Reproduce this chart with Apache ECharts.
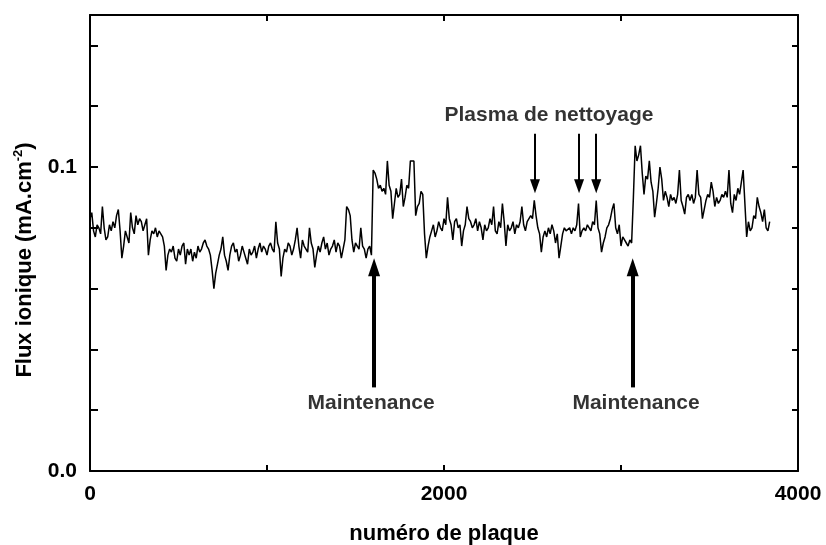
<!DOCTYPE html>
<html>
<head>
<meta charset="utf-8">
<script src="https://cdn.jsdelivr.net/npm/echarts@6/dist/echarts.min.js"></script>
<style>
html,body{margin:0;padding:0;background:#fff;}
#chart{width:826px;height:545px;}
</style>
</head>
<body>
<div id="chart"></div>
<script>
// plate spacing between successive readings
const STEP = 10;
// ion flux (mA.cm-2), one reading every STEP plates starting at plate 0
const flux = [
0.083,0.085,0.079,0.077,0.081,0.080,0.078,0.087,0.080,0.076,
0.077,0.081,0.079,0.082,0.080,0.084,0.086,0.079,0.070,0.074,
0.079,0.077,0.075,0.085,0.080,0.078,0.084,0.081,0.083,0.082,
0.079,0.081,0.083,0.071,0.076,0.079,0.078,0.080,0.077,0.079,
0.078,0.077,0.074,0.066,0.071,0.073,0.072,0.074,0.070,0.069,
0.073,0.071,0.074,0.075,0.068,0.073,0.071,0.073,0.069,0.072,
0.070,0.074,0.072,0.073,0.075,0.076,0.074,0.073,0.071,0.066,
0.060,0.065,0.068,0.071,0.073,0.077,0.071,0.069,0.066,0.071,
0.074,0.075,0.072,0.073,0.069,0.071,0.074,0.072,0.070,0.068,
0.073,0.071,0.072,0.074,0.070,0.073,0.075,0.072,0.074,0.073,
0.071,0.074,0.075,0.073,0.072,0.082,0.075,0.073,0.064,0.070,
0.073,0.072,0.075,0.074,0.071,0.073,0.076,0.080,0.074,0.070,
0.076,0.074,0.073,0.072,0.080,0.075,0.073,0.067,0.071,0.074,
0.072,0.075,0.077,0.073,0.075,0.071,0.073,0.074,0.076,0.072,
0.075,0.074,0.070,0.073,0.076,0.087,0.086,0.084,0.076,0.072,
0.075,0.074,0.073,0.080,0.074,0.073,0.070,0.073,0.074,0.071,
0.099,0.098,0.096,0.093,0.094,0.092,0.093,0.091,0.102,0.094,
0.092,0.083,0.088,0.093,0.090,0.091,0.096,0.087,0.090,0.094,
0.093,0.102,0.102,0.102,0.084,0.087,0.088,0.092,0.091,0.078,
0.070,0.074,0.077,0.079,0.081,0.077,0.079,0.082,0.080,0.079,
0.083,0.081,0.090,0.083,0.081,0.076,0.082,0.083,0.080,0.081,
0.074,0.079,0.081,0.087,0.083,0.082,0.080,0.081,0.083,0.079,
0.082,0.080,0.076,0.081,0.079,0.080,0.083,0.081,0.087,0.079,
0.078,0.082,0.080,0.088,0.082,0.074,0.081,0.079,0.080,0.082,
0.078,0.081,0.080,0.082,0.087,0.081,0.079,0.082,0.083,0.084,
0.083,0.089,0.084,0.080,0.078,0.072,0.077,0.079,0.077,0.080,
0.078,0.081,0.079,0.075,0.078,0.070,0.074,0.078,0.080,0.079,
0.079,0.080,0.078,0.080,0.079,0.081,0.088,0.077,0.079,0.080,
0.079,0.081,0.080,0.079,0.082,0.081,0.089,0.080,0.078,0.072,
0.075,0.077,0.080,0.081,0.083,0.086,0.088,0.080,0.078,0.081,
0.074,0.077,0.076,0.075,0.074,0.076,0.075,0.090,0.107,0.102,
0.104,0.107,0.098,0.091,0.097,0.096,0.102,0.095,0.092,0.0835,
0.088,0.093,0.100,0.096,0.089,0.092,0.090,0.087,0.091,0.089,
0.090,0.088,0.091,0.099,0.089,0.087,0.0845,0.090,0.091,0.089,
0.091,0.088,0.090,0.099,0.091,0.090,0.083,0.086,0.089,0.091,
0.090,0.095,0.092,0.087,0.090,0.088,0.089,0.091,0.090,0.092,
0.090,0.099,0.088,0.085,0.091,0.089,0.093,0.091,0.095,0.099,
0.099,0.077,0.082,0.079,0.080,0.084,0.083,0.090,0.087,0.085,
0.082,0.086,0.080,0.079,0.082
];
// annotation arrows (plate number)
const maintenanceAt = [1605, 3066];
const cleaningAt = [2514, 2763, 2860];
const xLabelsShown = [0, 2000, 4000];
const yLabelsShown = ['0.0', '0.1'];

const points = flux.map((v, i) => [i * STEP, v]);

const FONT = '"Liberation Sans", Arial, sans-serif';
const chart = echarts.init(document.getElementById('chart'), null, {renderer: 'canvas'});

const axisLineStyle = {color: '#000', width: 2};
const maintArrows = maintenanceAt.map(x => [
  {coord: [x, 0.0275]}, {coord: [x, 0.0670]}
]);
const cleanArrows = cleaningAt.map(x => [
  {coord: [x, 0.1109]}, {coord: [x, 0.0937]}
]);

chart.setOption({
  animation: false,
  backgroundColor: '#fff',
  grid: {left: 90, right: 28, top: 15, bottom: 74, containLabel: false, outerBoundsMode: 'none'},
  xAxis: [{
    type: 'value', min: 0, max: 4000, interval: 1000, position: 'bottom',
    name: 'numéro de plaque', nameLocation: 'middle', nameGap: 52,
    nameTextStyle: {fontFamily: FONT, fontWeight: 'bold', fontSize: 22, color: '#000'},
    axisLine: {show: true, onZero: false, lineStyle: axisLineStyle},
    axisTick: {show: true, inside: true, length: 6, lineStyle: {color: '#000', width: 2}},
    axisLabel: {margin: 13, fontFamily: FONT, fontWeight: 'bold', fontSize: 21, color: '#000',
      formatter: v => xLabelsShown.includes(v) ? String(v) : ''},
    splitLine: {show: false}
  }, {
    type: 'value', min: 0, max: 4000, interval: 1000, position: 'top',
    axisLine: {show: true, onZero: false, lineStyle: axisLineStyle},
    axisTick: {show: true, inside: true, length: 6, lineStyle: {color: '#000', width: 2}},
    axisLabel: {show: false}, splitLine: {show: false}
  }],
  yAxis: [{
    type: 'value', min: 0, max: 0.15, interval: 0.02, position: 'left',
    name: '{a|Flux ionique (mA.cm}{s|-2}{a|)}', nameLocation: 'middle', nameGap: 52, nameRotate: 90,
    nameTextStyle: {
      padding: [0, 34, 0, 0],
      rich: {
        a: {fontFamily: FONT, fontWeight: 'bold', fontSize: 22, color: '#000', lineHeight: 26},
        s: {fontFamily: FONT, fontWeight: 'bold', fontSize: 13, color: '#000', verticalAlign: 'top', lineHeight: 26, padding: [0, 0, 10, 0]}
      }
    },
    axisLine: {show: true, onZero: false, lineStyle: axisLineStyle},
    axisTick: {show: true, inside: true, length: 8, lineStyle: {color: '#000', width: 2}},
    axisLabel: {margin: 13, fontFamily: FONT, fontWeight: 'bold', fontSize: 21, color: '#000',
      formatter: v => Math.abs(v) < 1e-9 ? yLabelsShown[0] : (Math.abs(v - 0.1) < 1e-9 ? yLabelsShown[1] : '')},
    splitLine: {show: false}
  }, {
    type: 'value', min: 0, max: 0.15, interval: 0.02, position: 'right',
    axisLine: {show: true, onZero: false, lineStyle: axisLineStyle},
    axisTick: {show: true, inside: true, length: 6, lineStyle: {color: '#000', width: 2}},
    axisLabel: {show: false}, splitLine: {show: false}
  }],
  series: [{
    type: 'line', data: points, showSymbol: false, symbol: 'none',
    lineStyle: {color: '#000', width: 1.5},
    markLine: {
      silent: true, symbol: ['none', 'triangle'], symbolSize: [12, 18], precision: 4,
      label: {show: false},
      lineStyle: {color: '#000', width: 4, type: 'solid'},
      data: maintArrows
    }
  }, {
    type: 'line', data: [], showSymbol: false,
    markLine: {
      silent: true, symbol: ['none', 'triangle'], symbolSize: [10, 14], precision: 4,
      label: {show: false},
      lineStyle: {color: '#000', width: 2, type: 'solid'},
      data: cleanArrows
    }
  }, {
    type: 'scatter', symbolSize: 0, silent: true,
    data: [
      {value: [1588, 0.0224], name: 'Maintenance'},
      {value: [3085, 0.0224], name: 'Maintenance'},
      {value: [2593, 0.117], name: 'Plasma de nettoyage'}
    ],
    label: {show: true, position: 'inside', formatter: p => p.name,
      fontFamily: FONT, fontWeight: 'bold', fontSize: 21, color: '#000'}
  }]
});
</script>
</body>
</html>
